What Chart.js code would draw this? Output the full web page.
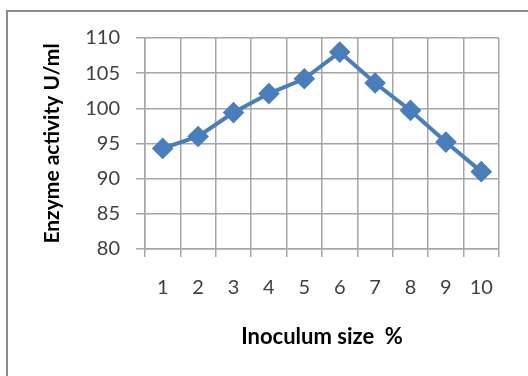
<!DOCTYPE html>
<html>
<head>
<meta charset="utf-8">
<script src="https://cdn.jsdelivr.net/npm/chart.js@4"></script>
<style>
  html, body { margin: 0; padding: 0; background: #fff; }
  #wrap { position: relative; width: 528px; height: 376px; overflow: hidden; }
  #frame { position: absolute; left: 6px; top: 10px; width: 600px; height: 500px;
           border: 2px solid #8c8c8c; pointer-events: none; }
  canvas { position: absolute; left: 0; top: 0; }
</style>
</head>
<body>
<div id="wrap">
  <canvas id="chart" width="528" height="376"></canvas>
  <div id="frame"></div>
</div>
<script>
// Inoculum size (%) vs enzyme activity
const sizes = ['1', '2', '3', '4', '5', '6', '7', '8', '9', '10'];
const activity = [94.3, 96.0, 99.4, 102.1, 104.2, 108.0, 103.6, 99.7, 95.2, 91.0];
const yMin = 80, yMax = 110, yStep = 5;

const gridColor = '#a6a6a6';
const lineColor = '#4a7ebb';

const ctx = document.getElementById('chart');
new Chart(ctx, {
  type: 'line',
  data: {
    labels: sizes,
    datasets: [{
      data: activity,
      borderColor: lineColor,
      backgroundColor: lineColor,
      borderWidth: 4,
      pointStyle: 'rectRot',
      pointRadius: 8,
      pointHoverRadius: 8,
      tension: 0
    }]
  },
  options: {
    responsive: false,
    animation: false,
    events: [],
    layout: { padding: { left: 36, right: 29, top: 38, bottom: 22 } },
    plugins: { legend: { display: false }, tooltip: { enabled: false } },
    scales: {
      x: {
        offset: true,
        grid: { offset: true, color: gridColor, lineWidth: 1.5, tickLength: 8 },
        border: { color: gridColor, width: 1.5 },
        ticks: { color: '#404040', padding: 19, font: { family: 'Lato', size: 20 } },
        title: { display: true, text: 'Inoculum size  %', color: '#000',
                 font: { family: 'Lato', size: 22, weight: 'bold' } },
        afterFit: s => { s.height = 105; }
      },
      y: {
        min: yMin, max: yMax,
        grid: { color: gridColor, lineWidth: 1.5, tickLength: 9 },
        border: { color: gridColor, width: 1.5 },
        ticks: { stepSize: yStep, color: '#404040', padding: 16, font: { family: 'Lato', size: 20 } },
        title: { display: true, text: 'Enzyme activity U/ml', color: '#000',
                 font: { family: 'Lato', size: 21, weight: 'bold' } },
        afterFit: s => { s.width = 109; }
      }
    }
  }
});
</script>
</body>
</html>
